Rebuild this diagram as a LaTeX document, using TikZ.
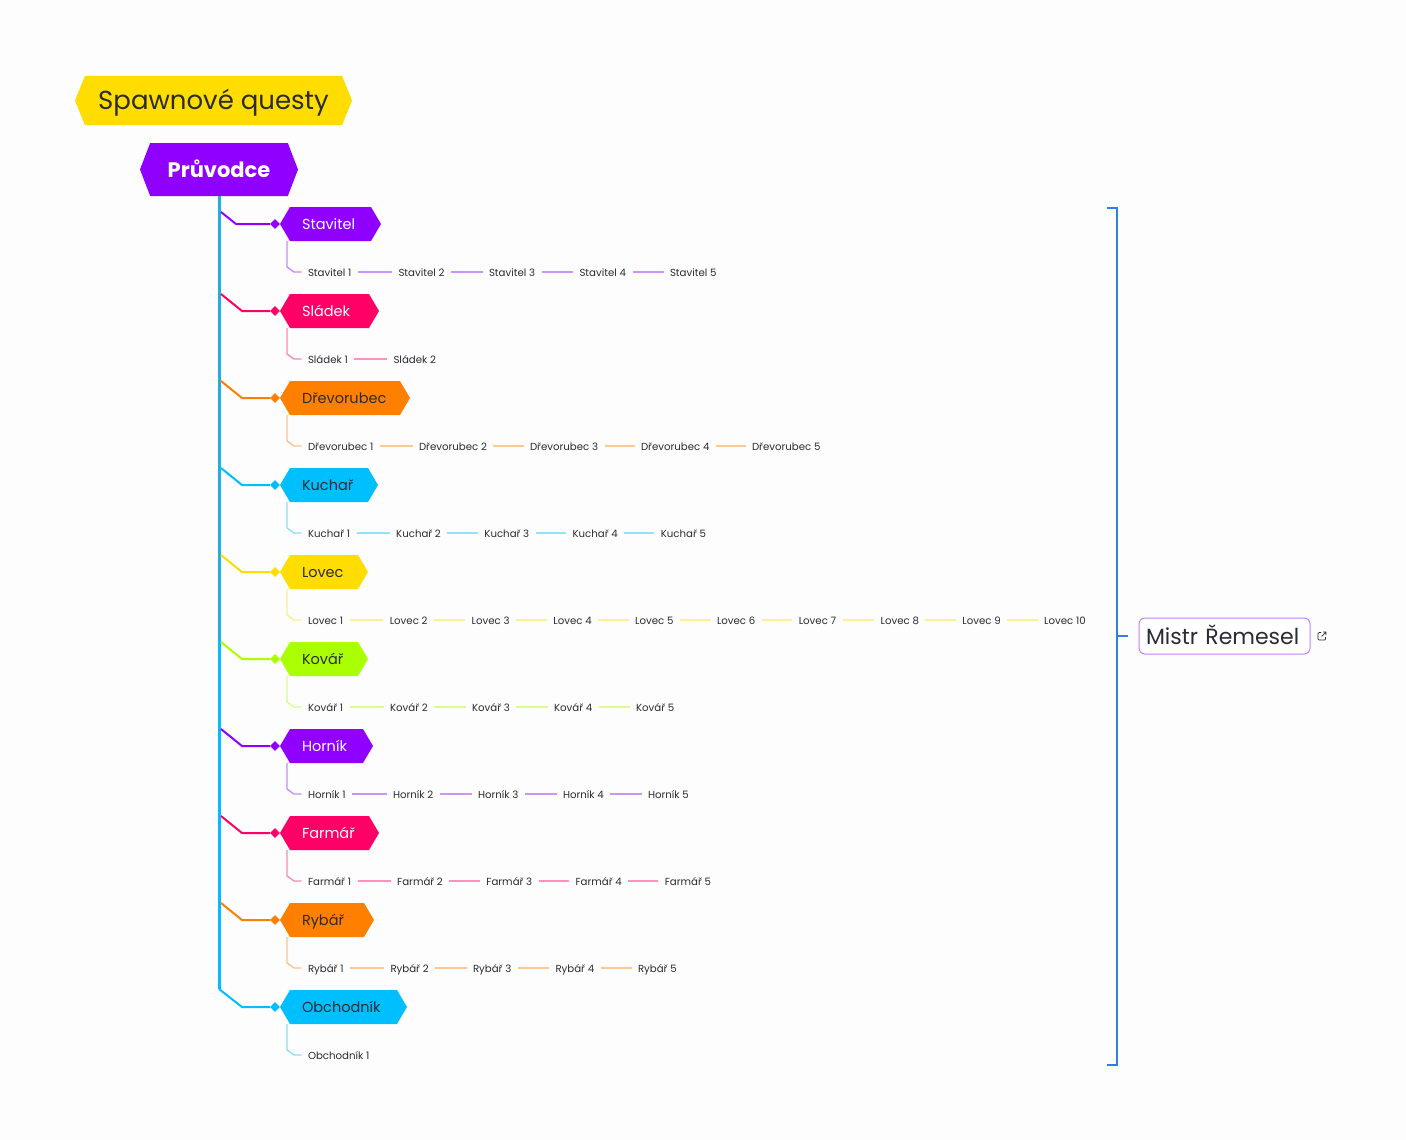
\documentclass[tikz,border=0pt]{standalone}
\usepackage{fontspec}
\setmainfont{Poppins}
\usetikzlibrary{positioning,shapes.symbols,shapes.geometric}
\definecolor{pagebg}{HTML}{FDFDFD}
\definecolor{ink}{HTML}{2B2B33}
\definecolor{cPurple}{HTML}{8F00FF}
\definecolor{cPink}{HTML}{FF0066}
\definecolor{cOrange}{HTML}{FF7F00}
\definecolor{cBlue}{HTML}{00BFFF}
\definecolor{cYellow}{HTML}{FFDD00}
\definecolor{cLime}{HTML}{AAFF00}
\definecolor{cTrunk}{HTML}{1FB0E0}
\definecolor{cBracket}{HTML}{2F7FE0}
\tikzset{
  hexbox/.style={signal, signal to=east and west, signal pointer angle=119, draw=none, inner sep=0pt, outer sep=0pt, anchor=west},
  leaf/.style={font=\fontsize{10.2}{12}\selectfont, text=ink, text height=10pt, text depth=1.5pt, inner xsep=6.5pt, inner ysep=0pt, outer sep=0pt, anchor=west},
  twig/.style={line width=2pt, draw opacity=.42},
  elbow/.style={line width=1.4pt, draw opacity=.45},
}
% name, colour, text colour, hexagon width, branch, row y, row id
\newcommand{\questrow}[7]{%
  \node[hexbox, fill=#2, text=#3, minimum width=#4pt, minimum height=34pt, text width=#4pt-44pt, align=left, text height=13pt, text depth=1.5pt, font=\fontsize{14.5}{18}\selectfont] (hex#7) at (280,#6) {#1};
  \node[diamond, fill=#2, inner sep=0pt, minimum size=10pt] (dot#7) at (275,#6) {};
  \coordinate (twig#7) at (287,#6+17);
  \draw[#2, line width=2pt, line join=round] #5 -- (dot#7);
}
\newcommand{\questleaves}[5]{%
  \foreach \k [remember=\k as \prev (initially 0)] in {1,...,#3} {
    \node[leaf] (leaf#5-\k) at ({301.5+(\k-1)*#4},#2+48) {#1 \k};
    \ifnum\k=1
      \draw[#5col, elbow] (twig#5) -- ++(0,26) -- ++(7,5) -- (leaf#5-\k.west);
    \else
      \draw[#5col, twig] (leaf#5-\prev.east) -- (leaf#5-\k.west);
    \fi
  }
}
\colorlet{Acol}{cPurple}\colorlet{Bcol}{cPink}\colorlet{Ccol}{cOrange}\colorlet{Dcol}{cBlue}\colorlet{Ecol}{cYellow}
\colorlet{Fcol}{cLime}\colorlet{Gcol}{cPurple}\colorlet{Hcol}{cPink}\colorlet{Icol}{cOrange}\colorlet{Jcol}{cBlue}
\begin{document}
\begin{tikzpicture}[x=1pt,y=-1pt]
\useasboundingbox (0,0) rectangle (1406,1140);
\fill[pagebg] (0,0) rectangle (1406,1140);

% title and root
\node[hexbox, signal pointer angle=136, fill=cYellow, text=ink, minimum width=277pt, minimum height=49pt, text height=21pt, text depth=3pt, font=\fontsize{26}{32}\selectfont] (title) at (75,100.5) {Spawnové questy};
\node[hexbox, signal pointer angle=138, fill=cPurple, text=white, minimum width=158pt, minimum height=53pt, text height=17pt, text depth=1pt, font=\fontsize{21}{26}\selectfont\bfseries] (root) at (140,169.5) {Průvodce};

% trunk
\coordinate (trunkend) at (root.south |- 0,989);
\draw[cBlue, line width=3pt] (root.south) -- (trunkend);
\draw[cTrunk, line width=3pt] (root.south) -- (219,640);

\questrow{Stavitel}{cPurple}{white}{101}{(221,212) -- (236,224)}{224}{A}
\questrow{Sládek}{cPink}{white}{99}{(221,294) -- (242,311)}{311}{B}
\questrow{Dřevorubec}{cOrange}{ink}{130}{(221,381) -- (242,398)}{398}{C}
\questrow{Kuchař}{cBlue}{ink}{98}{(221,468) -- (242,485)}{485}{D}
\questrow{Lovec}{cYellow}{ink}{88}{(221,555) -- (242,572)}{572}{E}
\questrow{Kovář}{cLime}{ink}{88}{(221,642) -- (242,659)}{659}{F}
\questrow{Horník}{cPurple}{white}{93}{(221,729) -- (242,746)}{746}{G}
\questrow{Farmář}{cPink}{white}{99}{(221,816) -- (242,833)}{833}{H}
\questrow{Rybář}{cOrange}{ink}{94}{(221,903) -- (242,920)}{920}{I}
\questrow{Obchodník}{cBlue}{ink}{127}{(trunkend) -- (242,1007)}{1007}{J}

\questleaves{Stavitel}{224}{5}{90.5}{A}
\questleaves{Sládek}{311}{2}{85.5}{B}
\questleaves{Dřevorubec}{398}{5}{111}{C}
\questleaves{Kuchař}{485}{5}{88.2}{D}
\questleaves{Lovec}{572}{10}{81.8}{E}
\questleaves{Kovář}{659}{5}{82}{F}
\questleaves{Horník}{746}{5}{85}{G}
\questleaves{Farmář}{833}{5}{89.2}{H}
\questleaves{Rybář}{920}{5}{82.5}{I}
\questleaves{Obchodník}{1007}{1}{0}{J}

% bracket and note
\node[draw=cPurple!50, fill=white, line width=1pt, rounded corners=6pt, minimum width=171pt, minimum height=36pt, inner sep=0pt, text width=157pt, align=left, text height=19pt, text depth=3pt, font=\fontsize{22}{28}\selectfont, text=ink] (note) at (1224.5,636) {Mistr Řemesel};
\coordinate (bracetop) at (1107,208);
\coordinate (bracebot) at (1107,1065);
\coordinate (bracemid) at (1117,636);
\draw[cBracket, line width=1.7pt] (bracetop) -- (1117,208) -- (1117,1065) -- (bracebot);
\draw[cBracket, line width=1.7pt] (bracemid) -- (1128,636);

% link icon
\draw[ink, line width=.7pt, rounded corners=1pt] (1321,632.5) -- (1318,632.5) -- (1318,640) -- (1325.5,640) -- (1325.5,637);
\draw[ink, line width=.7pt] (1321.5,636.5) -- (1326,632) (1323,632) -- (1326,632) -- (1326,635);
\end{tikzpicture}
\end{document}
